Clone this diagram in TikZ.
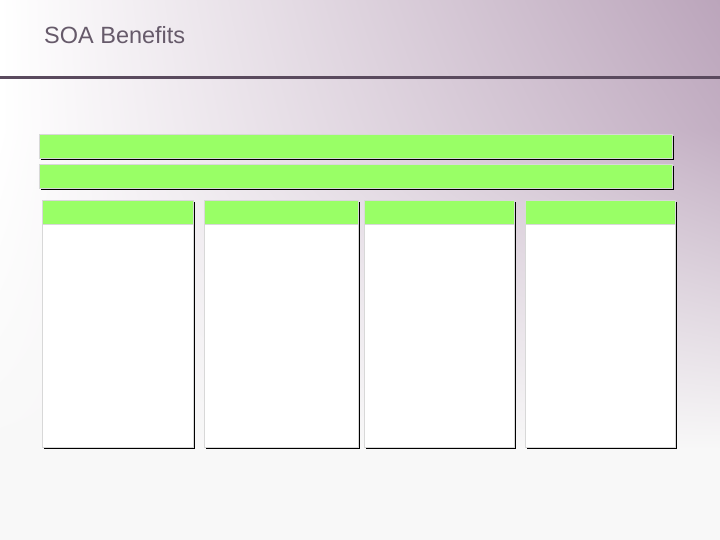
\documentclass[tikz,border=0pt]{standalone}
\usepackage{fontspec}
\setmainfont{Liberation Sans}
\usetikzlibrary{shadows,shadings}
\definecolor{bgpurple}{HTML}{BBA5BB}
\definecolor{bgmid}{HTML}{C3AFC3}
\definecolor{bgll}{HTML}{F8F8F8}
\definecolor{bgleft}{HTML}{FCFCFC}
\definecolor{rulecol}{HTML}{5A4A5E}
\definecolor{titlecol}{HTML}{665A6A}
\definecolor{barfill}{HTML}{99FF66}
\definecolor{edgegray}{HTML}{D8D8D8}
\tikzset{
  boxshadow/.style={general shadow={shadow xshift=2pt, shadow yshift=-2pt, fill=black}},
  bar/.style={rectangle, anchor=north west, inner sep=0pt, fill=barfill, draw=edgegray, line width=0.6pt, boxshadow},
  column/.style={rectangle, anchor=north west, inner sep=0pt, fill=white, draw=edgegray, line width=0.6pt, boxshadow},
  header/.style={rectangle, anchor=north west, inner sep=0pt, fill=barfill, draw=edgegray, line width=0.6pt},
  title/.style={anchor=base west, inner sep=0pt, text=titlecol, font=\fontsize{23.5}{28}\selectfont}
}
\begin{document}
\begin{tikzpicture}[x=1pt, y=-1pt]
  \useasboundingbox (0,0) rectangle (720,540);
  \fill[bgll] (0,0) rectangle (720,540);
  \shade[upper left=white, upper right=bgpurple, lower left=white, lower right=bgmid] (0,0) rectangle (720,131);
  \shade[upper left=white, upper right=bgmid, lower left=bgll, lower right=bgll] (0,130) rectangle (720,450);
  \node[title] (t) at (44,44) {SOA Benefits};
  \coordinate (rl) at (0,77.5);
  \coordinate (rr) at (720,77.5);
  \draw[rulecol, line width=3pt] (rl) -- (rr);
  % bars
  \node[bar, minimum width=633pt, minimum height=24pt] (bar1) at (39,134) {};
  \node[bar, minimum width=633pt, minimum height=24pt] (bar2) at (39,164) {};
  % columns
  \foreach \n/\x/\w in {c1/42/151, c2/204/154, c3/364/150, c4/525/150} {
    \node[column, minimum width=\w pt, minimum height=247pt] (\n) at (\x,200) {};
    \node[header, minimum width=\w pt, minimum height=24pt] (\n h) at (\x,200) {};
  }
\end{tikzpicture}
\end{document}
